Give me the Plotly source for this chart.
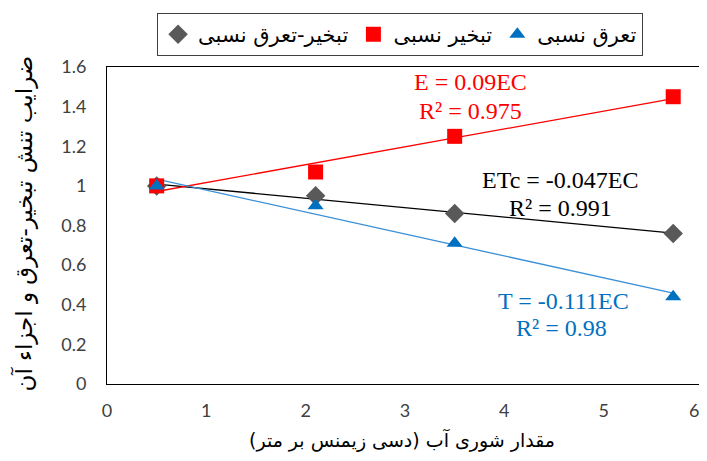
import numpy as np
import plotly.graph_objects as go

# Data
ec = [0.5, 2.1, 3.5, 5.7]
et_rel = [1.0, 0.95, 0.86, 0.76]     # تبخیر-تعرق نسبی
e_rel = [1.0, 1.07, 1.25, 1.45]      # تبخیر نسبی
t_rel = [1.0, 0.90, 0.71, 0.44]      # تعرق نسبی

names = ["تبخیر-تعرق نسبی", "تبخیر نسبی", "تعرق نسبی"]
x_ticks = [0, 1, 2, 3, 4, 5, 6]
y_ticks = [0, 0.2, 0.4, 0.6, 0.8, 1, 1.2, 1.4, 1.6]
y_tick_text = ["0", "0.2", "0.4", "0.6", "0.8", "1", "1.2", "1.4", "1.6"]
x_title = "مقدار شوری آب (دسی زیمنس بر متر)"
y_title = "ضرایب تنش تبخیر-تعرق و اجزاء آن"

series = [
    (et_rel, "#595959", "#000000", "diamond", 15),
    (e_rel, "#FF0000", "#FF0000", "square", 15),
    (t_rel, "#0070C0", "#3A8FD6", "triangle-up", 14),
]

tick_font = dict(family="Lato, Open Sans, sans-serif", size=18, color="#404040")

fig = go.Figure()

# trend lines (least-squares fit of each series)
xs = np.array([min(ec), max(ec)])
for (vals, mcol, lcol, sym, sz) in series:
    k, b = np.polyfit(ec, vals, 1)
    fig.add_trace(go.Scatter(x=xs, y=k * xs + b, mode="lines",
                             line=dict(color=lcol, width=1.3),
                             showlegend=False, hoverinfo="skip"))

for name, (vals, mcol, lcol, sym, sz) in zip(names, series):
    fig.add_trace(go.Scatter(x=ec, y=vals, mode="markers", name=name,
                             marker=dict(symbol=sym, size=sz, color=mcol)))

serif = "Liberation Serif, Times New Roman, serif"
ann = [
    ("E = 0.09EC", 3.66, 1.525, "#FF0000"),
    ("R² = 0.975", 3.66, 1.38, "#FF0000"),
    ("ETc = -0.047EC", 4.57, 1.03, "#000000"),
    ("R² = 0.991", 4.57, 0.89, "#000000"),
    ("T = -0.111EC", 4.6, 0.42, "#0070C0"),
    ("R² = 0.98", 4.58, 0.285, "#0070C0"),
]
for txt, ax, ay, col in ann:
    fig.add_annotation(x=ax, y=ay, text=txt, showarrow=False,
                       font=dict(family=serif, size=24, color=col))

# last x tick label (at the right edge of the axis), placed on the axis scale
fig.add_annotation(x=x_ticks[-1], y=-0.082, xref="x", yref="paper",
                   text=str(x_ticks[-1]), showarrow=False,
                   xanchor="right", xshift=-2, yanchor="middle", font=tick_font)

# axis titles (paper coords relative to plot area)
fig.add_annotation(x=0.495, y=-0.177, xref="paper", yref="paper",
                   text=x_title, showarrow=False, xanchor="center", yanchor="middle",
                   font=dict(family="DejaVu Sans", size=19, color="#000000"))
fig.add_annotation(x=-0.14, y=0.505, xref="paper", yref="paper",
                   text=y_title, showarrow=False, textangle=-90,
                   xanchor="center", yanchor="middle",
                   font=dict(family="DejaVu Sans", size=23, color="#000000"))

# page has an 8px body margin, so the figure is sized/offset to compensate
fig.update_layout(
    width=699, height=445,
    margin=dict(l=99, r=4, t=59, b=69, autoexpand=False),
    paper_bgcolor="white", plot_bgcolor="white",
    showlegend=True,
    legend=dict(orientation="h", x=0.084, xanchor="left", y=1.17, yanchor="top",
                bordercolor="#404040", borderwidth=1, bgcolor="white",
                font=dict(family="DejaVu Sans", size=21, color="#000000"),
                traceorder="normal"),
    xaxis=dict(range=[0, 6], tickvals=x_ticks[:-1], showgrid=False, zeroline=False,
               showline=True, linecolor="#000000", linewidth=1, mirror=True,
               ticks="", automargin=False, ticklabelstandoff=10,
               tickfont=tick_font),
    yaxis=dict(range=[0, 1.6], tickvals=y_ticks, ticktext=y_tick_text,
               showgrid=False, zeroline=False,
               showline=True, linecolor="#000000", linewidth=1, mirror=True,
               ticks="", automargin=False, ticklabelstandoff=16,
               tickfont=tick_font),
)

fig.write_html("out.html")
